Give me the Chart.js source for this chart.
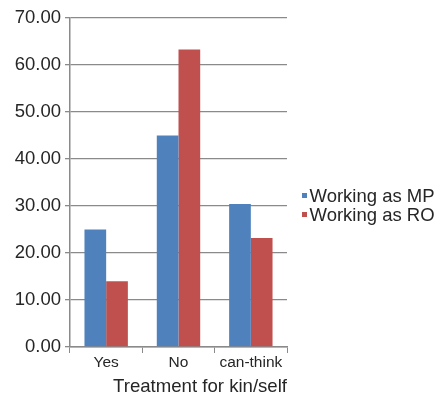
<!DOCTYPE html>
<html>
<head>
<meta charset="utf-8">
<script src="https://cdn.jsdelivr.net/npm/chart.js@4/dist/chart.umd.min.js"></script>
<style>
    html, body { margin: 0; padding: 0; background: #ffffff; }
    #wrap { position: relative; width: 441px; height: 394px; }
    #legend { position: absolute; left: 302px; top: 186px; font-family: 'Liberation Sans', Arial, sans-serif; font-size: 18.5px; line-height: 19px; color: #262626; }
    .legend-item { display: flex; align-items: center; height: 19px; white-space: nowrap; }
    .legend-box { width: 5px; height: 5px; margin-right: 2.5px; flex: none; }
</style>
</head>
<body>
<div id="wrap">
    <canvas id="chart" width="441" height="394"></canvas>
    <div id="legend"></div>
</div>
<script>
const categories = ['Yes', 'No', 'can-think'];
const workingAsMP = [25.0, 45.0, 30.4];
const workingAsRO = [14.0, 63.3, 23.2];
const yTicks = [0, 10, 20, 30, 40, 50, 60, 70];

const colors = { mp: '#4f81bd', ro: '#c0504d' };
const gridGray = '#8a8a8a';
const font = "'Liberation Sans', Arial, sans-serif";

const datasets = [
    { label: 'Working as MP', data: workingAsMP, backgroundColor: colors.mp },
    { label: 'Working as RO', data: workingAsRO, backgroundColor: colors.ro }
];

const ctx = document.getElementById('chart').getContext('2d');
new Chart(ctx, {
    type: 'bar',
    data: {
        labels: categories,
        datasets: datasets.map(d => ({
            ...d,
            borderWidth: 0,
            categoryPercentage: 0.6,
            barPercentage: 1.0
        }))
    },
    options: {
        responsive: false,
        animation: false,
        devicePixelRatio: 1,
        layout: { padding: { left: 0, top: 18, right: 154, bottom: 0 } },
        plugins: {
            legend: { display: false },
            tooltip: { enabled: false }
        },
        scales: {
            x: {
                offset: true,
                grid: { offset: true, drawOnChartArea: false, drawTicks: true, tickLength: 6, color: gridGray, lineWidth: 1 },
                border: { display: true, color: gridGray, width: 1.5 },
                ticks: { color: '#262626', font: { family: font, size: 15.5 }, padding: 0 },
                title: {
                    display: true,
                    text: 'Treatment for kin/self',
                    align: 'end',
                    color: '#262626',
                    font: { family: font, size: 18.6, lineHeight: 0.77 },
                    padding: { top: 0, bottom: 0 }
                },
                afterFit: s => { s.height = 47; }
            },
            y: {
                min: 0,
                max: 70,
                afterBuildTicks: s => { s.ticks = yTicks.map(v => ({ value: v })); },
                grid: { color: gridGray, lineWidth: 1.3, tickLength: 5 },
                border: { display: true, color: gridGray, width: 1.5 },
                ticks: {
                    color: '#262626',
                    font: { family: font, size: 18.5 },
                    padding: 4,
                    callback: v => Number(v).toFixed(2)
                },
                afterFit: s => { s.width = 70; }
            }
        }
    }
});

const legendEl = document.getElementById('legend');
datasets.forEach(d => {
    const item = document.createElement('div');
    item.className = 'legend-item';
    item.innerHTML = `<span class="legend-box" style="background:${d.backgroundColor}"></span><span>${d.label}</span>`;
    legendEl.appendChild(item);
});
</script>
</body>
</html>
